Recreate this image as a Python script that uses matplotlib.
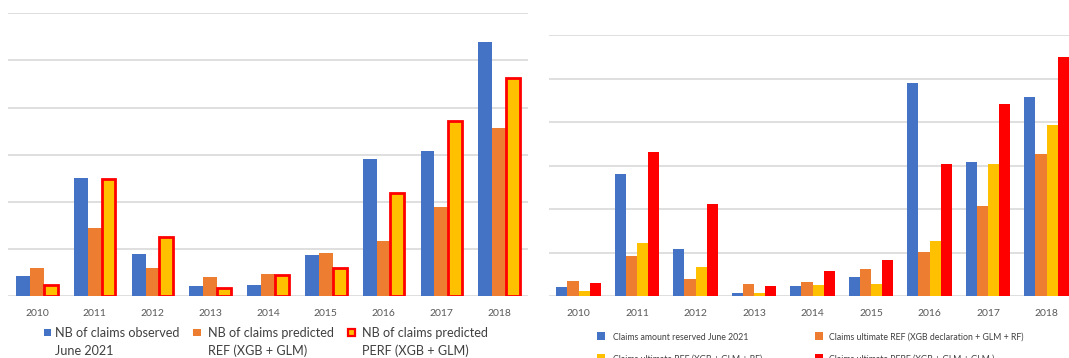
import matplotlib
matplotlib.use("Agg")
import matplotlib.pyplot as plt
import numpy as np
from matplotlib.patches import Rectangle

plt.rcParams['font.family'] = ['Lato', 'DejaVu Sans']

# ---------------- data ----------------
years = ["2010", "2011", "2012", "2013", "2014", "2015", "2016", "2017", "2018"]

# left chart: number of claims
nb_observed = [0.42, 2.50, 0.90, 0.22, 0.25, 0.87, 2.91, 3.08, 5.39]
nb_pred_ref = [0.59, 1.44, 0.61, 0.40, 0.47, 0.91, 1.18, 1.90, 3.56]
nb_pred_perf = [0.24, 2.48, 1.26, 0.17, 0.45, 0.59, 2.19, 3.72, 4.63]
left_labels = ["NB of claims observed\nJune 2021",
               "NB of claims predicted\nREF (XGB + GLM)",
               "NB of claims predicted\nPERF (XGB + GLM)"]

# right chart: claims amounts
amount_reserved = [0.22, 2.81, 1.08, 0.08, 0.24, 0.45, 4.89, 3.08, 4.58]
ult_ref_decl = [0.34, 0.93, 0.39, 0.28, 0.32, 0.63, 1.02, 2.07, 3.27]
ult_ref = [0.12, 1.22, 0.67, 0.07, 0.25, 0.28, 1.28, 3.04, 3.93]
ult_perf = [0.31, 3.31, 2.13, 0.24, 0.59, 0.83, 3.03, 4.41, 5.50]
right_labels = ["Claims amount reserved June 2021",
                "Claims ultimate REF (XGB declaration + GLM + RF)",
                "Claims ultimate REF (XGB + GLM + RF)",
                "Claims ultimate PERF (XGB + GLM + GLM )"]

BLUE = "#4472C4"
ORANGE = "#ED7D31"
YELLOW = "#FFC000"
RED = "#FF0000"
GRID = "#D9D9D9"
TICK = "#595959"
TEXT = "#404040"

W, H = 1069, 358
fig = plt.figure(figsize=(W / 100, H / 100), dpi=100)


def fx(x):
    return x / W


def fy(y):
    return 1 - y / H


def style_axes(ax, ymax):
    ax.set_ylim(0, ymax)
    ax.set_xlim(-0.5, len(years) - 0.5)
    ax.set_yticks(np.arange(0, ymax + 0.01, 1))
    ax.set_yticklabels([])
    ax.tick_params(axis='y', length=0)
    ax.yaxis.grid(True, color=GRID, linewidth=1.2)
    ax.set_axisbelow(True)
    for s in ax.spines.values():
        s.set_visible(False)
    ax.set_xticks(np.arange(len(years)))
    ax.set_xticklabels(years, fontsize=7.5, color=TICK)
    ax.tick_params(axis='x', length=0, pad=9)


# ---------------- left chart ----------------
axL = fig.add_axes([fx(8), fy(296.3), fx(520), 283 / H])
x = np.arange(len(years))
bw = 0.24
axL.bar(x - bw, nb_observed, bw, color=BLUE, zorder=2)
axL.bar(x, nb_pred_ref, bw, color=ORANGE, zorder=2)
axL.bar(x + bw, nb_pred_perf, bw, color=YELLOW, edgecolor=RED, linewidth=2.0, zorder=3)
style_axes(axL, 6)

# ---------------- right chart ----------------
axR = fig.add_axes([fx(549.3), fy(296.3), fx(526.5), 261.3 / H])
bw2 = 0.19
axR.bar(x - 1.5 * bw2, amount_reserved, bw2, color=BLUE, zorder=2)
axR.bar(x - 0.5 * bw2, ult_ref_decl, bw2, color=ORANGE, zorder=2)
axR.bar(x + 0.5 * bw2, ult_ref, bw2, color=YELLOW, zorder=2)
axR.bar(x + 1.5 * bw2, ult_perf, bw2, color=RED, zorder=2)
style_axes(axR, 6)

# ---------------- legends (drawn in figure pixels) ----------------
def square(x0, y0, size, face, edge=None, lw=0):
    fig.add_artist(Rectangle((fx(x0), fy(y0 + size)), size / W, size / H,
                             transform=fig.transFigure, facecolor=face,
                             edgecolor=edge if edge else face, linewidth=lw))


# left legend
left_items = [(43.5, 55, BLUE, None), (193, 208, ORANGE, None), (347.5, 362.5, YELLOW, RED)]
for (mx, tx, c, e), lab in zip(left_items, left_labels):
    if e:
        square(mx, 328.5, 7.5, c, e, 1.6)
    else:
        square(mx, 328.5, 7.5, c)
    for i, line in enumerate(lab.split("\n")):
        fig.text(fx(tx), fy(333.3 + i * 17.4), line, fontsize=9.1, color=TEXT,
                 ha='left', va='center')

# right legend (second row is cut by the bottom edge, as in the reference)
right_items = [(597, 613, 337, BLUE), (815, 829, 337, ORANGE),
               (597, 613, 359.5, YELLOW), (815, 829, 359.5, RED)]
for (mx, tx, ty, c), lab in zip(right_items, right_labels):
    square(mx, ty - 5, 8, c)
    fig.text(fx(tx), fy(ty), lab, fontsize=6.35, color=TEXT, ha='left', va='center')

fig.savefig("out.png", dpi=100)
